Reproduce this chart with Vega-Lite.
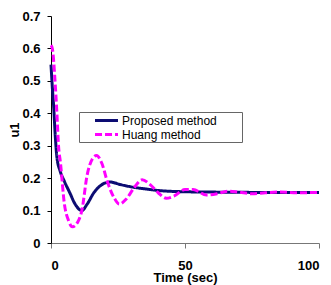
{
  "$schema": "https://vega.github.io/schema/vega-lite/v6.json",
  "autosize": {"type": "none"},
  "padding": {"left": 51, "top": 16, "right": 12, "bottom": 42},
  "width": 268,
  "height": 227,
  "background": "white",
  "config": {
    "view": {"stroke": null},
    "font": "Liberation Sans",
    "axis": {"grid": false, "labelFont": "Liberation Sans", "titleFont": "Liberation Sans", "labelFontWeight": "bold", "titleFontWeight": "bold", "labelFontSize": 13, "titleFontSize": 13, "labelColor": "black", "titleColor": "black", "domainColor": "black", "tickColor": "black"}
  },
  "data": {
    "values": [
      {"t": 0, "u": 0.55, "s": "Proposed method"},
      {"t": 0.5, "u": 0.48, "s": "Proposed method"},
      {"t": 1, "u": 0.42, "s": "Proposed method"},
      {"t": 1.6, "u": 0.33, "s": "Proposed method"},
      {"t": 2.2, "u": 0.265, "s": "Proposed method"},
      {"t": 3.4, "u": 0.222, "s": "Proposed method"},
      {"t": 5, "u": 0.19, "s": "Proposed method"},
      {"t": 7, "u": 0.155, "s": "Proposed method"},
      {"t": 9, "u": 0.12, "s": "Proposed method"},
      {"t": 11.5, "u": 0.1, "s": "Proposed method"},
      {"t": 13.5, "u": 0.12, "s": "Proposed method"},
      {"t": 16, "u": 0.155, "s": "Proposed method"},
      {"t": 19, "u": 0.18, "s": "Proposed method"},
      {"t": 22, "u": 0.188, "s": "Proposed method"},
      {"t": 26, "u": 0.18, "s": "Proposed method"},
      {"t": 30, "u": 0.173, "s": "Proposed method"},
      {"t": 35, "u": 0.167, "s": "Proposed method"},
      {"t": 40, "u": 0.162, "s": "Proposed method"},
      {"t": 50, "u": 0.158, "s": "Proposed method"},
      {"t": 60, "u": 0.157, "s": "Proposed method"},
      {"t": 80, "u": 0.156, "s": "Proposed method"},
      {"t": 100, "u": 0.156, "s": "Proposed method"},
      {"t": 0, "u": 0.61, "s": "Huang method"},
      {"t": 0.5, "u": 0.6, "s": "Huang method"},
      {"t": 1.5, "u": 0.5, "s": "Huang method"},
      {"t": 2.2, "u": 0.4, "s": "Huang method"},
      {"t": 2.8, "u": 0.3, "s": "Huang method"},
      {"t": 3.5, "u": 0.25, "s": "Huang method"},
      {"t": 5, "u": 0.12, "s": "Huang method"},
      {"t": 6.5, "u": 0.07, "s": "Huang method"},
      {"t": 8, "u": 0.05, "s": "Huang method"},
      {"t": 10, "u": 0.065, "s": "Huang method"},
      {"t": 11.5, "u": 0.1, "s": "Huang method"},
      {"t": 13.5, "u": 0.21, "s": "Huang method"},
      {"t": 15.5, "u": 0.26, "s": "Huang method"},
      {"t": 17, "u": 0.27, "s": "Huang method"},
      {"t": 19, "u": 0.245, "s": "Huang method"},
      {"t": 21, "u": 0.19, "s": "Huang method"},
      {"t": 23.5, "u": 0.14, "s": "Huang method"},
      {"t": 25.5, "u": 0.12, "s": "Huang method"},
      {"t": 28, "u": 0.135, "s": "Huang method"},
      {"t": 31, "u": 0.17, "s": "Huang method"},
      {"t": 34, "u": 0.195, "s": "Huang method"},
      {"t": 37, "u": 0.18, "s": "Huang method"},
      {"t": 40, "u": 0.155, "s": "Huang method"},
      {"t": 43, "u": 0.138, "s": "Huang method"},
      {"t": 46, "u": 0.145, "s": "Huang method"},
      {"t": 50, "u": 0.165, "s": "Huang method"},
      {"t": 53, "u": 0.165, "s": "Huang method"},
      {"t": 58, "u": 0.148, "s": "Huang method"},
      {"t": 62, "u": 0.152, "s": "Huang method"},
      {"t": 66, "u": 0.16, "s": "Huang method"},
      {"t": 70, "u": 0.157, "s": "Huang method"},
      {"t": 75, "u": 0.152, "s": "Huang method"},
      {"t": 80, "u": 0.155, "s": "Huang method"},
      {"t": 85, "u": 0.157, "s": "Huang method"},
      {"t": 92, "u": 0.155, "s": "Huang method"},
      {"t": 100, "u": 0.156, "s": "Huang method"}
    ]
  },
  "mark": {"type": "line", "interpolate": "monotone", "strokeWidth": 3},
  "encoding": {
    "x": {"field": "t", "type": "quantitative", "scale": {"domain": [0, 100], "nice": false},
      "axis": {"values": [0, 50, 100], "title": "Time (sec)", "labelPadding": 11, "tickSize": 5, "titlePadding": -1, "domainColor": "#777", "tickColor": "#777"}},
    "y": {"field": "u", "type": "quantitative", "scale": {"domain": [0, 0.7], "nice": false},
      "axis": {"values": [0, 0.1, 0.2, 0.3, 0.4, 0.5, 0.6, 0.7], "format": ".1~f", "title": "u1", "tickSize": 4, "labelPadding": 7, "titlePadding": 0}},
    "color": {"field": "s", "type": "nominal", "sort": ["Proposed method", "Huang method"],
      "scale": {"domain": ["Proposed method", "Huang method"], "range": ["#0c0c72", "#ff00ff"]},
      "legend": {"title": null, "orient": "none", "legendX": 28, "legendY": 96, "symbolType": "M-2,0H2", "symbolSize": 132, "symbolStrokeWidth": 3, "symbolOffset": 19, "labelOffset": 8, "labelFontSize": 12, "labelFont": "Liberation Sans", "labelColor": "black", "rowPadding": 0, "padding": 1, "strokeColor": "#666", "fillColor": "white", "labelExpr": "datum.label + '\u00a0\u00a0\u00a0\u00a0\u00a0\u00a0\u00a0\u200b'"}},
    "strokeDash": {"field": "s", "type": "nominal", "sort": ["Proposed method", "Huang method"],
      "scale": {"domain": ["Proposed method", "Huang method"], "range": [[1, 0], [7, 3]]}, "legend": null}
  }
}
